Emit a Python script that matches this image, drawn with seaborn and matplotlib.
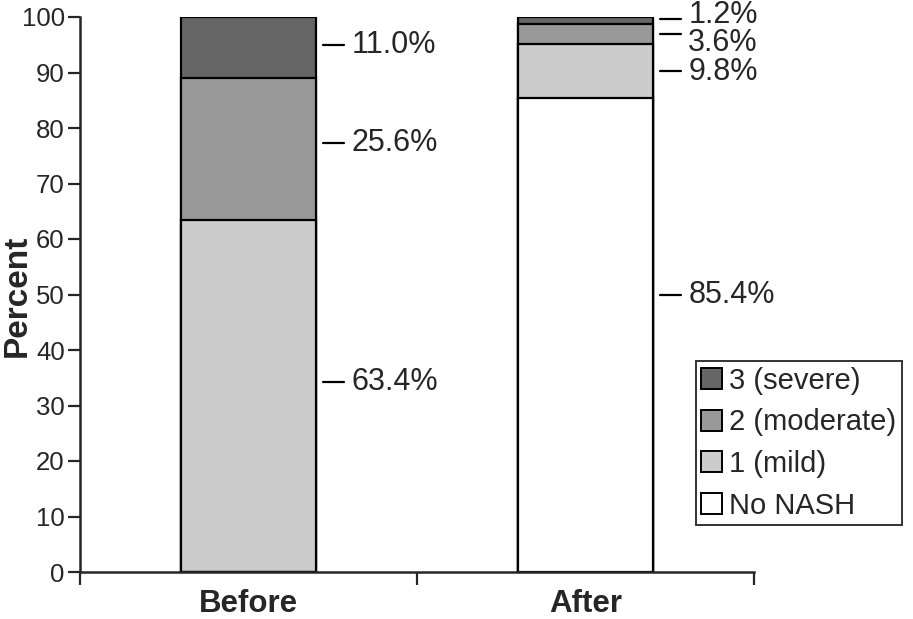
import matplotlib
matplotlib.use("Agg")
import matplotlib.pyplot as plt
import seaborn as sns
import numpy as np
from matplotlib.patches import Patch

groups = ["Before", "After"]
levels = ["No NASH", "1 (mild)", "2 (moderate)", "3 (severe)"]
no_nash = [0.0, 85.4]
mild = [63.4, 9.8]
moderate = [25.6, 3.6]
severe = [11.0, 1.2]
colors = ["#ffffff", "#cccccc", "#999999", "#666666"]

# label texts with placements (layout): (text, dash y, text y)
label_sets = [
    [("63.4%", 34.2, 34.2), ("25.6%", 77.3, 77.3), ("11.0%", 95.0, 95.0)],
    [("85.4%", 49.9, 49.9), ("9.8%", 90.3, 90.1), ("3.6%", 96.9, 95.3), ("1.2%", 99.6, 100.4)],
]

sns.set_style("ticks")
plt.rcParams["font.family"] = ["Liberation Sans", "DejaVu Sans"]

fig = plt.figure(figsize=(9.13, 6.19), dpi=100)
ax = fig.add_axes([80 / 913, 1 - 572 / 619, (754 - 80) / 913, (572 - 17) / 619])

series = [no_nash, mild, moderate, severe]
cum = np.cumsum(np.array(series), axis=0)
# draw from top cumulative down so lower layers overlay
for i in range(len(series) - 1, -1, -1):
    sns.barplot(x=groups, y=cum[i], color=colors[i], edgecolor="black",
                linewidth=1.6, width=0.4, saturation=1, ax=ax, zorder=2 + (3 - i))

ax.set_xlim(-0.5, 1.5)
ax.set_ylim(0, 100)
ax.set_yticks(np.arange(0, 101, 10))
ax.set_yticklabels([str(v) for v in range(0, 101, 10)], fontsize=18.5)
ax.tick_params(axis="y", length=9, width=1.6, direction="out", pad=2)
ax.set_xticks([0, 1])
ax.set_xticklabels(groups, fontsize=22.5, fontweight="bold")
ax.tick_params(axis="x", which="major", length=0, pad=12)
ax.set_xticks([-0.5, 0.5, 1.5], minor=True)
ax.tick_params(axis="x", which="minor", length=9, width=1.6, direction="out")
ax.set_xlabel("")
ax.set_ylabel("")
fig.text(17 / 913, 1 - 296 / 619, "Percent", rotation=90, va="center", ha="center",
         fontsize=24, fontweight="bold")
for s in ["top", "right"]:
    ax.spines[s].set_visible(False)
for s in ["left", "bottom"]:
    ax.spines[s].set_linewidth(1.8)
ax.spines["bottom"].set_zorder(10)

# annotations with short dash
for gi, labs in enumerate(label_sets):
    x0 = gi + 0.2 + 0.02
    for txt, yd, yt in labs:
        ax.plot([x0, x0 + 0.062], [yd, yd], color="black", lw=1.6, clip_on=False)
        ax.text(x0 + 0.085, yt, txt, fontsize=22, va="center", ha="left")

handles = [Patch(facecolor=colors[i], edgecolor="black", linewidth=1.4, label=levels[i])
           for i in range(3, -1, -1)]
leg = fig.legend(handles=handles, loc="lower left", bbox_to_anchor=(696 / 913, 1 - 525 / 619),
                 fontsize=21, frameon=True, fancybox=False, edgecolor="black",
                 handlelength=0.72, handleheight=0.72, handletextpad=0.24,
                 borderpad=0.18, labelspacing=0.47, borderaxespad=0)
leg.get_frame().set_linewidth(1.4)

fig.savefig("out.png", dpi=100)
